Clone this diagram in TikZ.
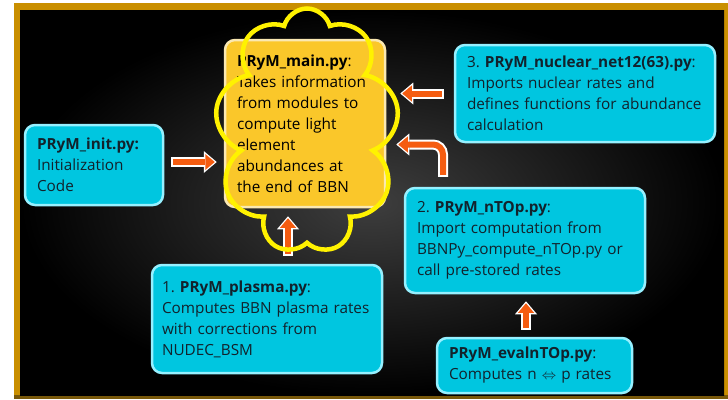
\documentclass[tikz,border=0pt]{standalone}
\usepackage{fontspec}
\setmainfont{Open Sans}
\frenchspacing
\usetikzlibrary{arrows.meta,shapes.symbols}
\definecolor{framegold}{RGB}{201,143,0}
\definecolor{framedark}{RGB}{120,88,10}
\definecolor{bgmid}{RGB}{62,62,62}
\definecolor{goldfill}{RGB}{250,199,42}
\definecolor{goldrim}{RGB}{250,232,178}
\definecolor{cyanfill}{RGB}{0,198,224}
\definecolor{cyanrim}{RGB}{150,240,255}
\definecolor{ink}{RGB}{18,34,44}
\definecolor{arrowred}{RGB}{245,92,16}

\begin{document}
\begin{tikzpicture}[x=1pt, y=-1pt, font=\fontsize{15.3}{21}\selectfont,
    box/.style = {draw=cyanrim, fill=cyanfill, text=ink, line width=2.5pt, rounded corners=10pt, align=left, inner xsep=12pt, inner ysep=4pt},
    mainbox/.style = {box, draw=goldrim, fill=goldfill, text=black},
    halo/.style = {cloud, cloud puffs=9, cloud puff arc=150, cloud ignores aspect, draw=yellow, line width=4.5pt, minimum width=184pt, minimum height=245pt},
    pipeout/.style = {draw=white, line width=10pt, -{Triangle[width=22pt, length=13pt, line width=0pt]}},
    pipein/.style = {draw=arrowred, line width=6pt, -{Triangle[width=16pt, length=9.5pt, line width=0pt]}}]
    \useasboundingbox (0,0) rectangle (728,399);
    \fill[white] (0,0) rectangle (728,399);
    \fill[framegold] (14,3) rectangle (728,399);
    \fill[framedark] (14,395) rectangle (728,399);
    \shade[inner color=bgmid, outer color=black] (20,10) rectangle (724,395);

    \node [mainbox, text width=136pt, minimum height=167pt] (main) at (305, 123.5) {\textbf{PRyM\_main.py}:\\Takes information\\from modules to\\compute light\\element\\abundances at\\the end of BBN};
    \node [box, text width=114pt, minimum height=80pt] (init) at (94, 165) {\textbf{PRyM\_init.py:}\\Initialization\\Code};
    \node [box, text width=236pt, minimum height=97pt] (nuc) at (585, 93.5) {3. \textbf{PRyM\_nuclear\_net12(63).py}:\\Imports nuclear rates and\\defines functions for abundance\\calculation};
    \node [box, text width=216pt, minimum height=105pt] (ntop) at (525, 240.5) {2. \textbf{PRyM\_nTOp.py}:\\Import computation from\\BBNPy\_compute\_nTOp.py or\\call pre-stored rates};
    \node [box, inner xsep=10pt, text width=210pt, minimum height=108pt] (plasma) at (267, 319) {1. \textbf{PRyM\_plasma.py}:\\Computes BBN plasma rates\\with corrections from\\NUDEC\_BSM};
    \node [box, text width=171pt, minimum height=55pt] (eval) at (534.5, 365.5) {\textbf{PRyM\_evalnTOp.py}:\\Computes n $\Leftrightarrow$ p rates};

    % arrows into the main module
    \draw[pipeout, shorten <=7pt, shorten >=7pt] ([yshift=3pt]init.east) -- ([yshift=3pt]init.east -| main.west);
    \draw[pipein, shorten <=9pt, shorten >=9pt] ([yshift=3pt]init.east) -- ([yshift=3pt]init.east -| main.west);
    \draw[pipeout, shorten <=10pt, shorten >=14pt] (nuc.west) -- (nuc.west -| main.east);
    \draw[pipein, shorten <=12pt, shorten >=16pt] (nuc.west) -- (nuc.west -| main.east);
    \draw[pipeout, rounded corners=10pt, shorten <=10pt, shorten >=10pt] ([xshift=-82pt]ntop.north) |- ([yshift=-21pt]main.east);
    \draw[pipein, rounded corners=10pt, shorten <=12pt, shorten >=12pt] ([xshift=-82pt]ntop.north) |- ([yshift=-21pt]main.east);
    \draw[pipeout, shorten <=8pt, shorten >=8pt] ([xshift=21pt]plasma.north) -- ([xshift=21pt]plasma.north |- main.south);
    \draw[pipein, shorten <=10pt, shorten >=10pt] ([xshift=21pt]plasma.north) -- ([xshift=21pt]plasma.north |- main.south);
    \draw[pipeout, shorten <=7pt, shorten >=7pt] ([xshift=-8.5pt]eval.north) -- ([xshift=-8.5pt]eval.north |- ntop.south);
    \draw[pipein, shorten <=9pt, shorten >=9pt] ([xshift=-8.5pt]eval.north) -- ([xshift=-8.5pt]eval.north |- ntop.south);

    \node [halo] (halo) at (307, 131) {};
\end{tikzpicture}
\end{document}
